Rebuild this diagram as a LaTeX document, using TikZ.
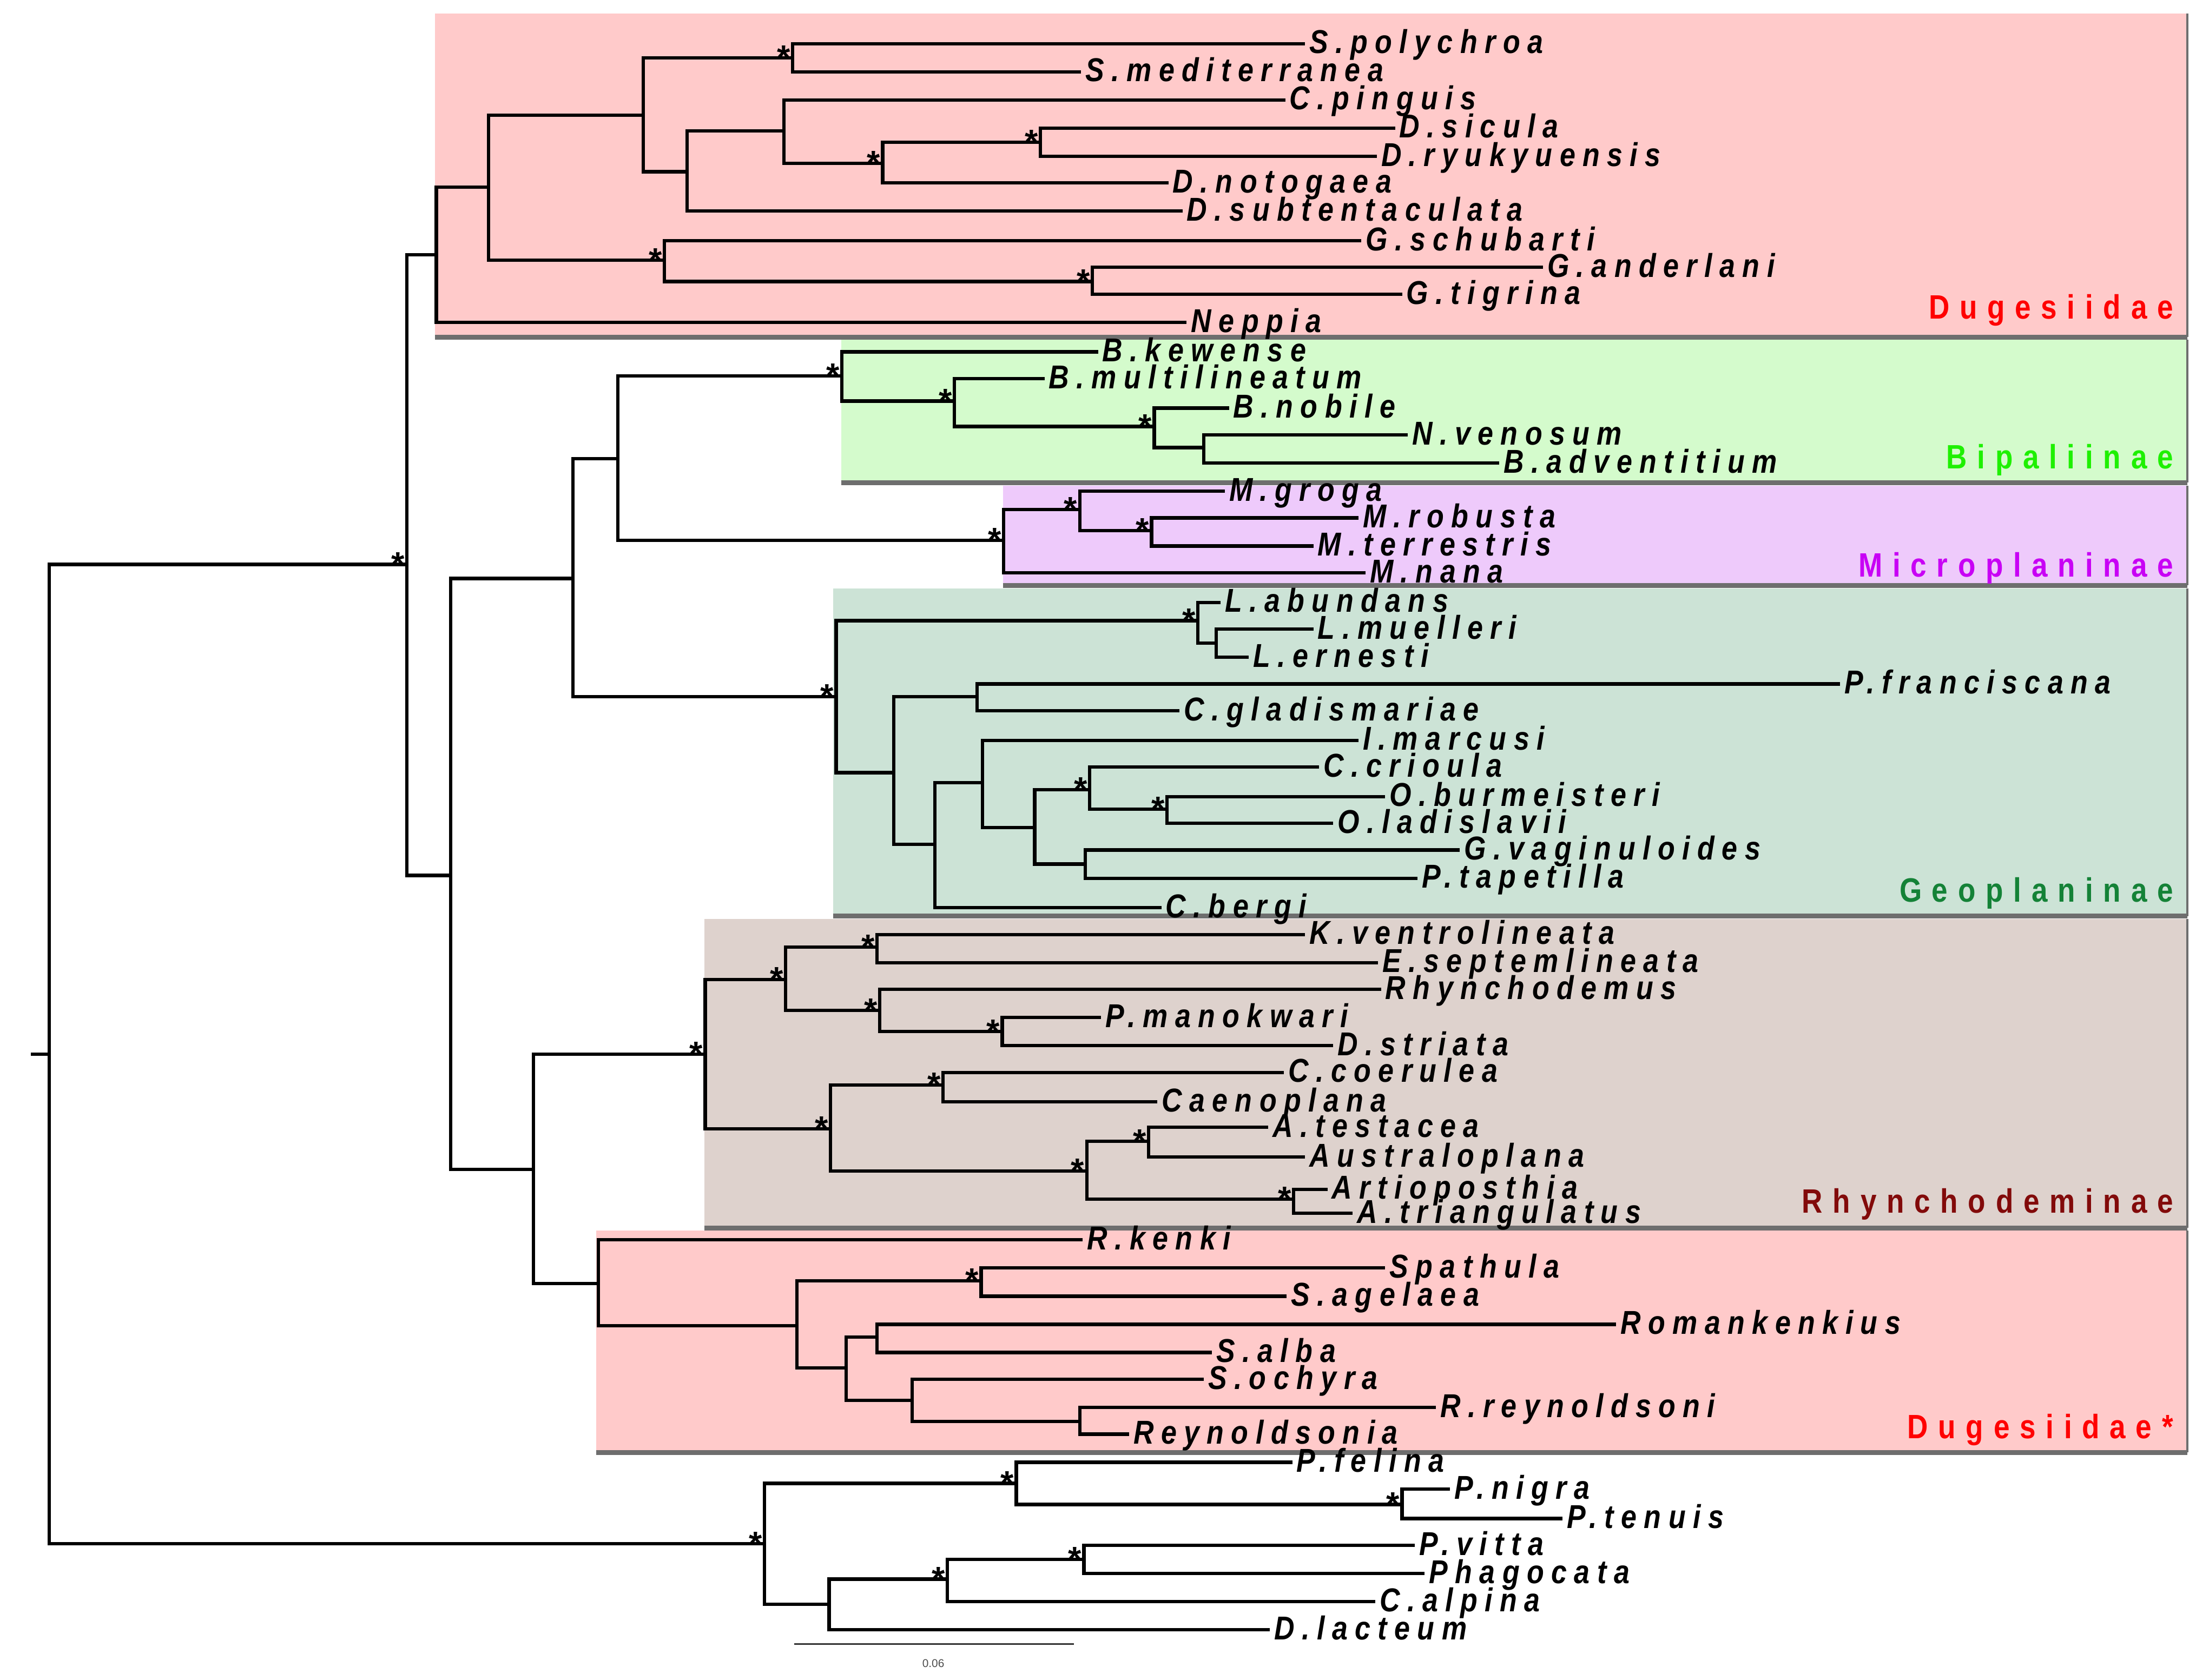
\documentclass[tikz,border=0pt]{standalone}
\usepackage{fontspec}
\setmainfont{Liberation Sans}
\newfontfamily\labfont[LetterSpace=22,FakeStretch=0.85]{Liberation Sans}
\newfontfamily\grpfont[LetterSpace=30,FakeStretch=0.85]{Liberation Sans}
\definecolor{dugpink}{RGB}{255,202,202}
\definecolor{bipgreen}{RGB}{212,251,204}
\definecolor{micpurp}{RGB}{238,202,251}
\definecolor{geogreen}{RGB}{204,227,214}
\definecolor{rhybrown}{RGB}{222,210,205}
\definecolor{edgegray}{RGB}{110,110,110}
\definecolor{labred}{RGB}{255,0,0}
\definecolor{labgreen}{RGB}{30,240,0}
\definecolor{labpurp}{RGB}{200,0,245}
\definecolor{labgeo}{RGB}{20,130,55}
\definecolor{labrhy}{RGB}{130,10,10}
\tikzset{
  br/.style={line width=2.4pt, line cap=butt, line join=miter},
  leaflab/.style={anchor=base west, inner sep=0pt, xshift=3pt, yshift=-7pt,
    font=\labfont\bfseries\itshape\fontsize{23.5}{24}\selectfont},
  bs/.style={anchor=base east, inner sep=0pt, xshift=-1.5pt, yshift=-8pt,
    font=\bfseries\fontsize{24}{24}\selectfont},
  grp/.style={anchor=base east, inner sep=0pt,
    font=\grpfont\bfseries\fontsize{24}{24}\selectfont},
  boxbot/.style={draw=edgegray, line width=3.5pt},
  boxright/.style={draw=edgegray, line width=1.5pt},
}
\newcommand\Leaf[4]{\coordinate (#1) at (#2,#3); \node[leaflab] (#1t) at (#1) {#4};}
\newcommand\Bs[1]{\node[bs] (#1s) at (#1) {*};}
\newcommand\Br[2]{\draw[br] (#1) |- (#2);}
\newcommand\GBox[5]{\fill[#1] (#2,#3) rectangle (#4,#5);
  \draw[boxbot] (#2,#5) -- (#4,#5); \draw[boxright] (#4,#3) -- (#4,#5);}
\begin{document}
\begin{tikzpicture}[x=1pt,y=-1pt]
\useasboundingbox[fill=white] (0,0) rectangle (1560,1193.7);
% ---------- clade boxes ----------
\GBox{dugpink}{309}{9.5}{1554}{239.5}
\GBox{bipgreen}{597.5}{241.5}{1554}{343}
\GBox{micpurp}{712.5}{345}{1554}{416}
\GBox{geogreen}{592}{418}{1554}{651}
\GBox{rhybrown}{500.5}{653}{1554}{872.5}
\GBox{dugpink}{423.5}{874.5}{1554}{1032}
% ---------- internal nodes ----------
\coordinate (r0) at (22,749);
\coordinate (r) at (35,749);
\coordinate (A) at (289,401);
\coordinate (O) at (543,1097);
\coordinate (D0) at (310,181);
\coordinate (B) at (320,622);
\coordinate (D1) at (347,133);
\coordinate (D2) at (457,82);
\coordinate (G) at (472,185);
\coordinate (S) at (563,41);
\coordinate (Da) at (488,122);
\coordinate (Db) at (557,93);
\coordinate (Dc) at (627,116);
\coordinate (Dd) at (739,101);
\coordinate (Ge) at (776,200);
\coordinate (C) at (407,411);
\coordinate (R) at (379,831);
\coordinate (E) at (439,326);
\coordinate (Geo) at (594,495);
\coordinate (Bip) at (598,267);
\coordinate (Mic) at (713,384);
\coordinate (Ba) at (678,285);
\coordinate (Bb) at (820,303);
\coordinate (Bc) at (855,318);
\coordinate (Ma) at (767,362);
\coordinate (Mb) at (818,377);
\coordinate (La) at (851,441);
\coordinate (Lb) at (864,457);
\coordinate (Ga) at (635,549);
\coordinate (Gb) at (694,495);
\coordinate (Gc) at (664,600);
\coordinate (Gd) at (698,556);
\coordinate (Gf) at (735,588);
\coordinate (Gg) at (774,561);
\coordinate (Gh) at (829,575);
\coordinate (Gi) at (771,614);
\coordinate (Rh) at (501,749);
\coordinate (Ra) at (558,696);
\coordinate (Rb) at (623,673);
\coordinate (Rc) at (625,718);
\coordinate (Rd) at (712,733);
\coordinate (Re) at (590,802);
\coordinate (Rf) at (670,771);
\coordinate (Rg) at (772,832);
\coordinate (Rj) at (816,811);
\coordinate (Rk) at (919,852);
\coordinate (Ds) at (425,912);
\coordinate (Sa) at (566,942);
\coordinate (Sb) at (697,910);
\coordinate (Sc) at (601,972);
\coordinate (Sd) at (623,950);
\coordinate (Se) at (648,995);
\coordinate (Sf) at (767,1010);
\coordinate (Pa) at (722,1054);
\coordinate (Pb) at (996,1069);
\coordinate (Pc) at (589,1140);
\coordinate (Pd) at (673,1122);
\coordinate (Pe) at (770,1108);
% ---------- leaves ----------
\Leaf{spol}{927}{31}{S.polychroa}
\Leaf{smed}{768}{51}{S.mediterranea}
\Leaf{cpin}{913}{71}{C.pinguis}
\Leaf{dsic}{991}{91}{D.sicula}
\Leaf{dryu}{978}{111}{D.ryukyuensis}
\Leaf{dnot}{830}{130}{D.notogaea}
\Leaf{dsub}{840}{150}{D.subtentaculata}
\Leaf{gsch}{967}{171}{G.schubarti}
\Leaf{gand}{1096}{190}{G.anderlani}
\Leaf{gtig}{996}{209}{G.tigrina}
\Leaf{nepp}{843}{229}{Neppia}
\Leaf{bkew}{780}{250}{B.kewense}
\Leaf{bmul}{742}{269}{B.multilineatum}
\Leaf{bnob}{873}{290}{B.nobile}
\Leaf{nven}{1000}{309}{N.venosum}
\Leaf{badv}{1065}{329}{B.adventitium}
\Leaf{mgro}{870}{349}{M.groga}
\Leaf{mrob}{965}{368}{M.robusta}
\Leaf{mter}{933}{388}{M.terrestris}
\Leaf{mnan}{970}{407}{M.nana}
\Leaf{labu}{867}{428}{L.abundans}
\Leaf{lmue}{933}{447}{L.muelleri}
\Leaf{lern}{887}{467}{L.ernesti}
\Leaf{pfra}{1307}{486}{P.franciscana}
\Leaf{cgla}{838}{505}{C.gladismariae}
\Leaf{imar}{965}{526}{I.marcusi}
\Leaf{ccri}{937}{545}{C.crioula}
\Leaf{obur}{984}{566}{O.burmeisteri}
\Leaf{olad}{947}{585}{O.ladislavii}
\Leaf{gvag}{1037}{604}{G.vaginuloides}
\Leaf{ptap}{1007}{624}{P.tapetilla}
\Leaf{cber}{825}{645}{C.bergi}
\Leaf{kven}{927}{664}{K.ventrolineata}
\Leaf{esep}{979}{684}{E.septemlineata}
\Leaf{rhyn}{981}{703}{Rhynchodemus}
\Leaf{pman}{782}{723}{P.manokwari}
\Leaf{dstr}{947}{743}{D.striata}
\Leaf{ccoe}{912}{762}{C.coerulea}
\Leaf{caen}{822}{783}{Caenoplana}
\Leaf{ates}{901}{801}{A.testacea}
\Leaf{aust}{927}{822}{Australoplana}
\Leaf{arti}{943}{845}{Artioposthia}
\Leaf{atri}{961}{862}{A.triangulatus}
\Leaf{rken}{769}{881}{R.kenki}
\Leaf{spat}{984}{901}{Spathula}
\Leaf{sage}{914}{921}{S.agelaea}
\Leaf{roma}{1148}{941}{Romankenkius}
\Leaf{salb}{861}{961}{S.alba}
\Leaf{soch}{855}{980}{S.ochyra}
\Leaf{rrey}{1020}{1000}{R.reynoldsoni}
\Leaf{reyn}{802}{1019}{Reynoldsonia}
\Leaf{pfel}{918}{1039}{P.felina}
\Leaf{pnig}{1030}{1058}{P.nigra}
\Leaf{pten}{1110}{1079}{P.tenuis}
\Leaf{pvit}{1005}{1098}{P.vitta}
\Leaf{phag}{1012}{1118}{Phagocata}
\Leaf{calp}{977}{1138}{C.alpina}
\Leaf{dlac}{902}{1158}{D.lacteum}
% ---------- branches ----------
\draw[br] (r0) -- (r);
\Br{r}{A} \Br{r}{O}
\Br{A}{D0} \Br{A}{B}
\Br{D0}{D1} \Br{D0}{nepp}
\Br{D1}{D2} \Br{D1}{G}
\Br{D2}{S} \Br{D2}{Da}
\Br{S}{spol} \Br{S}{smed}
\Br{Da}{Db} \Br{Da}{dsub}
\Br{Db}{cpin} \Br{Db}{Dc}
\Br{Dc}{Dd} \Br{Dc}{dnot}
\Br{Dd}{dsic} \Br{Dd}{dryu}
\Br{G}{gsch} \Br{G}{Ge}
\Br{Ge}{gand} \Br{Ge}{gtig}
\Br{B}{C} \Br{B}{R}
\Br{C}{E} \Br{C}{Geo}
\Br{E}{Bip} \Br{E}{Mic}
\Br{Bip}{bkew} \Br{Bip}{Ba}
\Br{Ba}{bmul} \Br{Ba}{Bb}
\Br{Bb}{bnob} \Br{Bb}{Bc}
\Br{Bc}{nven} \Br{Bc}{badv}
\Br{Mic}{Ma} \Br{Mic}{mnan}
\Br{Ma}{mgro} \Br{Ma}{Mb}
\Br{Mb}{mrob} \Br{Mb}{mter}
\Br{Geo}{La} \Br{Geo}{Ga}
\Br{La}{labu} \Br{La}{Lb}
\Br{Lb}{lmue} \Br{Lb}{lern}
\Br{Ga}{Gb} \Br{Ga}{Gc}
\Br{Gb}{pfra} \Br{Gb}{cgla}
\Br{Gc}{Gd} \Br{Gc}{cber}
\Br{Gd}{imar} \Br{Gd}{Gf}
\Br{Gf}{Gg} \Br{Gf}{Gi}
\Br{Gg}{ccri} \Br{Gg}{Gh}
\Br{Gh}{obur} \Br{Gh}{olad}
\Br{Gi}{gvag} \Br{Gi}{ptap}
\Br{R}{Rh} \Br{R}{Ds}
\Br{Rh}{Ra} \Br{Rh}{Re}
\Br{Ra}{Rb} \Br{Ra}{Rc}
\Br{Rb}{kven} \Br{Rb}{esep}
\Br{Rc}{rhyn} \Br{Rc}{Rd}
\Br{Rd}{pman} \Br{Rd}{dstr}
\Br{Re}{Rf} \Br{Re}{Rg}
\Br{Rf}{ccoe} \Br{Rf}{caen}
\Br{Rg}{Rj} \Br{Rg}{Rk}
\Br{Rj}{ates} \Br{Rj}{aust}
\Br{Rk}{arti} \Br{Rk}{atri}
\Br{Ds}{rken} \Br{Ds}{Sa}
\Br{Sa}{Sb} \Br{Sa}{Sc}
\Br{Sb}{spat} \Br{Sb}{sage}
\Br{Sc}{Sd} \Br{Sc}{Se}
\Br{Sd}{roma} \Br{Sd}{salb}
\Br{Se}{soch} \Br{Se}{Sf}
\Br{Sf}{rrey} \Br{Sf}{reyn}
\Br{O}{Pa} \Br{O}{Pc}
\Br{Pa}{pfel} \Br{Pa}{Pb}
\Br{Pb}{pnig} \Br{Pb}{pten}
\Br{Pc}{Pd} \Br{Pc}{dlac}
\Br{Pd}{Pe} \Br{Pd}{calp}
\Br{Pe}{pvit} \Br{Pe}{phag}
% ---------- support asterisks ----------
\Bs{A} \Bs{S} \Bs{Dc} \Bs{Dd} \Bs{G} \Bs{Ge}
\Bs{Bip} \Bs{Ba} \Bs{Bb}
\Bs{Mic} \Bs{Ma} \Bs{Mb}
\Bs{Geo} \Bs{La} \Bs{Gg} \Bs{Gh}
\Bs{Rh} \Bs{Ra} \Bs{Rb} \Bs{Rc} \Bs{Rd} \Bs{Re} \Bs{Rf} \Bs{Rg} \Bs{Rj} \Bs{Rk}
\Bs{Sb}
\Bs{O} \Bs{Pa} \Bs{Pb} \Bs{Pd} \Bs{Pe}
% ---------- clade labels ----------
\node[grp, text=labred] (gDug) at (1544,226.5) {Dugesiidae};
\node[grp, text=labgreen] (gBip) at (1544,333) {Bipaliinae};
\node[grp, text=labpurp] (gMic) at (1544,410) {Microplaninae};
\node[grp, text=labgeo] (gGeo) at (1544,641) {Geoplaninae};
\node[grp, text=labrhy] (gRhy) at (1544,862) {Rhynchodeminae};
\node[grp, text=labred] (gDs) at (1544,1022) {Dugesiidae*};
% ---------- scale bar ----------
\coordinate (sb1) at (564,1168);
\coordinate (sb2) at (763,1168);
\draw[line width=1.2pt, black!80] (sb1) -- (sb2);
\node[font=\fontsize{8}{8}\selectfont, text=black!70, inner sep=0pt] (sbl) at (663,1182) {0.06};
\end{tikzpicture}
\end{document}
